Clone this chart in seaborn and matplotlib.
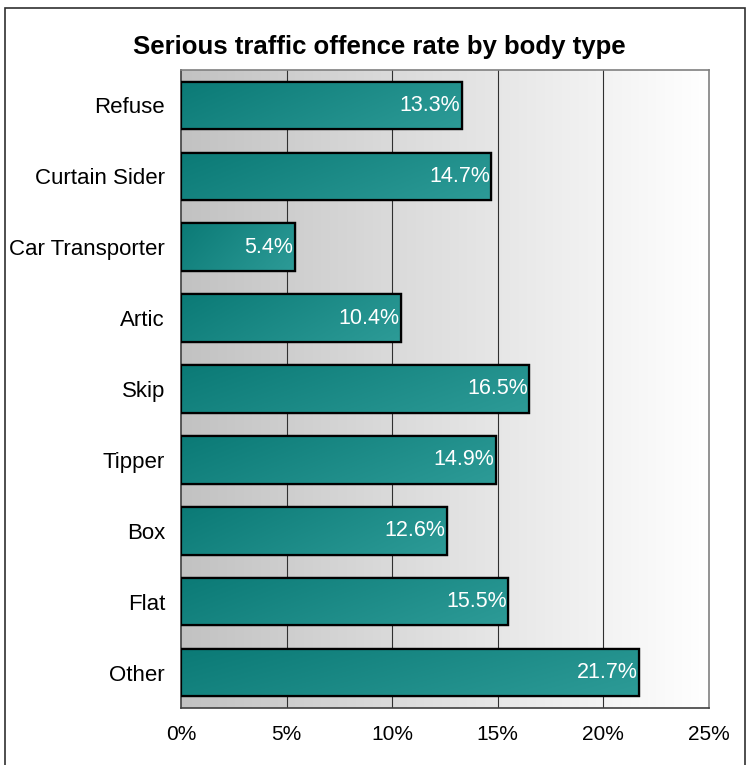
import numpy as np
import matplotlib
matplotlib.use("Agg")
import matplotlib.pyplot as plt
import seaborn as sns
from matplotlib.patches import Rectangle
from matplotlib.ticker import FixedLocator, PercentFormatter

body_types = ['Refuse', 'Curtain Sider', 'Car Transporter', 'Artic', 'Skip',
              'Tipper', 'Box', 'Flat', 'Other']
rates = [13.3, 14.7, 5.4, 10.4, 16.5, 14.9, 12.6, 15.5, 21.7]
x_ticks = [0, 5, 10, 15, 20, 25]

sns.set_style('white')
plt.rcParams['font.family'] = ['Liberation Sans', 'DejaVu Sans']
plt.rcParams['text.color'] = 'black'
plt.rcParams['xtick.labelcolor'] = 'black'
plt.rcParams['ytick.labelcolor'] = 'black'

fig = plt.figure(figsize=(7.49, 7.65), dpi=100)
ax = fig.add_axes([181 / 749, 1 - 708 / 765, 528 / 749, 638 / 765])

# grey -> white background gradient of the plot area
grad = np.linspace(0.76, 1.0, 256)[None, :]
ax.imshow(np.dstack([grad, grad, grad]), extent=[0, 1, 0, 1], transform=ax.transAxes,
          aspect='auto', zorder=0, interpolation='bicubic')

sns.barplot(x=rates, y=body_types, orient='h', color='#1b8b87', width=0.67,
            edgecolor='black', linewidth=1.6, ax=ax, zorder=3)

# shade each bar a little, darker on the left, lighter at the bottom
cmap = matplotlib.colors.LinearSegmentedColormap.from_list('teal', ['#0b7a76', '#2d9b97'])
xx, yy = np.meshgrid(np.linspace(0, 1, 128), np.linspace(0, 1, 32))
shade = 0.8 * xx + 0.3 * yy
for p in ax.patches:
    x0, y0 = p.get_x(), p.get_y()
    w, h = p.get_width(), p.get_height()
    im = ax.imshow(shade, cmap=cmap, vmin=0, vmax=1.1, aspect='auto', origin='upper',
                   extent=[x0, x0 + w, y0 + h, y0], zorder=3.5, interpolation='bicubic')
    im.set_clip_path(p)
    ax.add_patch(Rectangle((x0, y0), w, h, fill=False, edgecolor='black', lw=1.6, zorder=4))
    ax.text(x0 + w - 0.08, y0 + h / 2, f'{w:.1f}%', color='white', fontsize=15.5,
            ha='right', va='center', zorder=5)

ax.set_xlim(0, 25)
ax.set_ylim(len(body_types) - 0.5, -0.5)
ax.set_xticks(x_ticks)
ax.xaxis.set_major_formatter(PercentFormatter(decimals=0))
for v in x_ticks[1:-1]:
    ax.axvline(v, color='#303030', lw=0.8, zorder=1)

ax.yaxis.set_minor_locator(FixedLocator(np.arange(-0.5, len(body_types), 1)))
ax.tick_params(axis='y', which='major', length=0, labelsize=16, pad=11.5)
ax.tick_params(axis='y', which='minor', length=5, width=1, color='#404040', direction='out')
ax.tick_params(axis='x', length=5, width=1, color='#404040', direction='out', labelsize=15, pad=7)
ax.set_xlabel('')
ax.set_ylabel('')

for s in ['left', 'bottom']:
    ax.spines[s].set_color('#404040')
    ax.spines[s].set_linewidth(1.2)
for s in ['top', 'right']:
    ax.spines[s].set_color('#808080')
    ax.spines[s].set_linewidth(1.2)

fig.text(379 / 749, 1 - 47 / 765, 'Serious traffic offence rate by body type',
         ha='center', va='center', fontsize=18.5, fontweight='bold')

fig.patches.append(Rectangle((5 / 749, -0.05), 740 / 749, 1.05 - 8 / 765, transform=fig.transFigure,
                             fill=False, edgecolor='#303030', lw=1.2))

fig.savefig('out.png', dpi=100)
